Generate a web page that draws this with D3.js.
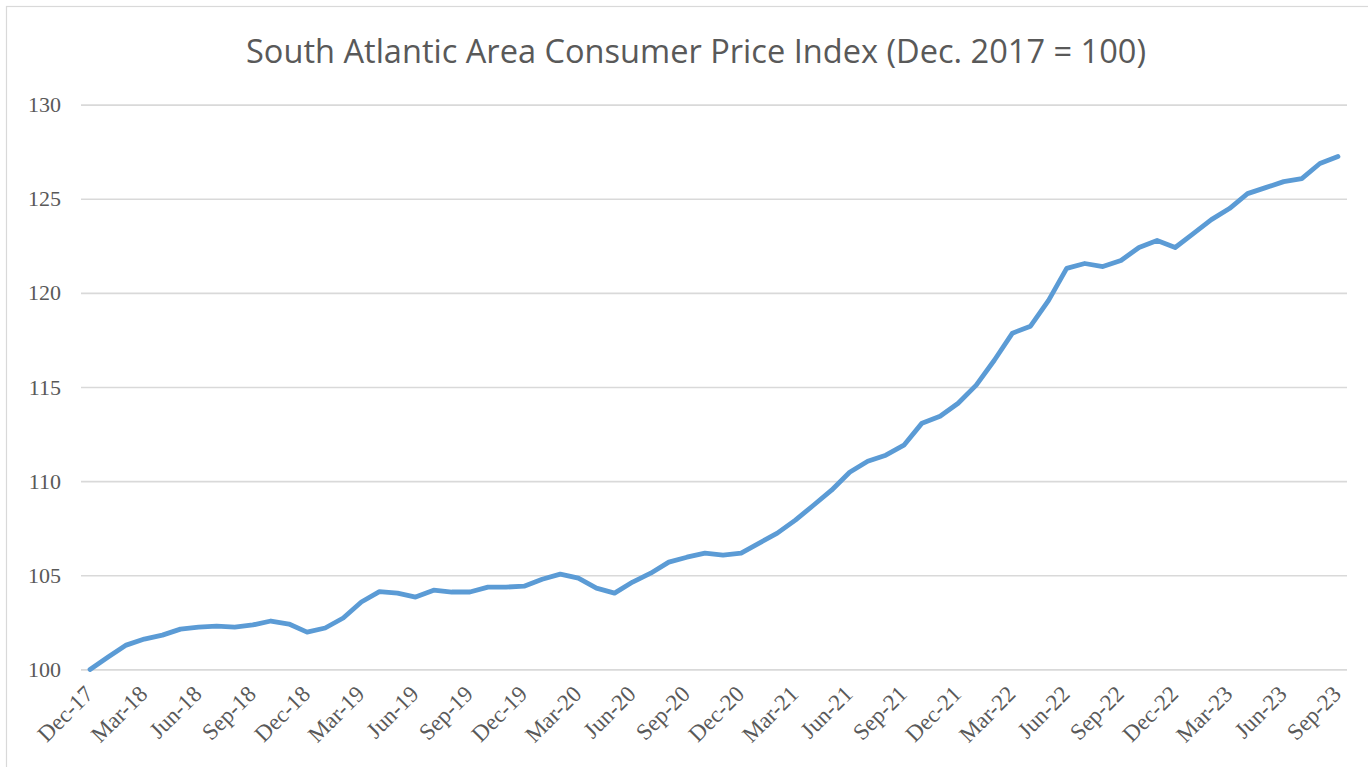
<!DOCTYPE html>
<html>
<head>
<meta charset="utf-8">
<script src="https://cdn.jsdelivr.net/npm/d3@7"></script>
<style>
  html, body { margin: 0; padding: 0; background: #fff; }
  svg { display: block; }
</style>
</head>
<body>
<svg id="chart" width="1368" height="767"></svg>
<script>
const title = "South Atlantic Area Consumer Price Index (Dec. 2017 = 100)";

const categories = [
  "Dec-17","Jan-18","Feb-18","Mar-18","Apr-18","May-18","Jun-18","Jul-18","Aug-18","Sep-18","Oct-18","Nov-18",
  "Dec-18","Jan-19","Feb-19","Mar-19","Apr-19","May-19","Jun-19","Jul-19","Aug-19","Sep-19","Oct-19","Nov-19",
  "Dec-19","Jan-20","Feb-20","Mar-20","Apr-20","May-20","Jun-20","Jul-20","Aug-20","Sep-20","Oct-20","Nov-20",
  "Dec-20","Jan-21","Feb-21","Mar-21","Apr-21","May-21","Jun-21","Jul-21","Aug-21","Sep-21","Oct-21","Nov-21",
  "Dec-21","Jan-22","Feb-22","Mar-22","Apr-22","May-22","Jun-22","Jul-22","Aug-22","Sep-22","Oct-22","Nov-22",
  "Dec-22","Jan-23","Feb-23","Mar-23","Apr-23","May-23","Jun-23","Jul-23","Aug-23","Sep-23"
];

const cpiValues = [
  100.00,100.66,101.29,101.61,101.82,102.14,102.25,102.30,102.25,102.36,102.57,102.41,
  101.98,102.20,102.73,103.58,104.13,104.05,103.84,104.21,104.11,104.11,104.37,104.37,
  104.42,104.79,105.06,104.85,104.32,104.05,104.64,105.11,105.70,105.96,106.18,106.07,
  106.18,106.71,107.24,107.93,108.72,109.52,110.47,111.06,111.38,111.91,113.08,113.45,
  114.14,115.10,116.42,117.86,118.23,119.60,121.30,121.56,121.40,121.72,122.41,122.78,
  122.41,123.15,123.89,124.48,125.27,125.59,125.91,126.07,126.87,127.24
];

const xTickLabels = [
  "Dec-17","Mar-18","Jun-18","Sep-18","Dec-18","Mar-19","Jun-19","Sep-19","Dec-19","Mar-20","Jun-20","Sep-20",
  "Dec-20","Mar-21","Jun-21","Sep-21","Dec-21","Mar-22","Jun-22","Sep-22","Dec-22","Mar-23","Jun-23","Sep-23"
];

const yTickValues = [100, 105, 110, 115, 120, 125, 130];

const svg = d3.select("#chart");

// chart-area border
svg.append("rect")
  .attr("x", 6.5).attr("y", 6.5)
  .attr("width", 1400).attr("height", 800)
  .attr("fill", "none")
  .attr("stroke", "#d9d9d9")
  .attr("stroke-width", 1.2);

const x = d3.scalePoint()
  .domain(categories)
  .range([81, 1347])
  .padding(0.5);

const y = d3.scaleLinear()
  .domain([100, 130])
  .range([669.4, 104.6]);

// gridlines
const grid = svg.append("g")
  .attr("class", "grid")
  .call(d3.axisLeft(y).tickValues(yTickValues).tickSize(-(1347 - 81)).tickFormat(""))
  .attr("transform", "translate(81,0)");
grid.select(".domain").remove();
grid.selectAll("line")
  .attr("stroke", "#d9d9d9")
  .attr("stroke-width", 1.6);

// y axis labels
const yAxis = svg.append("g")
  .attr("transform", "translate(61,0)")
  .call(d3.axisLeft(y).tickValues(yTickValues).tickSize(0).tickPadding(0).tickFormat(d3.format("d")));
yAxis.select(".domain").remove();
yAxis.selectAll("text")
  .attr("font-family", "'Liberation Serif', 'Times New Roman', serif")
  .attr("font-size", 22)
  .attr("fill", "#595959");

// x axis labels
const xAxis = svg.append("g")
  .attr("transform", "translate(0,669.4)")
  .call(d3.axisBottom(x).tickValues(xTickLabels).tickSize(0).tickPadding(0));
xAxis.select(".domain").remove();
xAxis.selectAll("text")
  .attr("font-family", "'Liberation Serif', 'Times New Roman', serif")
  .attr("font-size", 23)
  .attr("fill", "#595959")
  .attr("text-anchor", "end")
  .attr("dy", null)
  .attr("y", 0)
  .attr("transform", "translate(4,26) rotate(-45)");

// line
const line = d3.line()
  .x((d, i) => x(categories[i]))
  .y(d => y(d));

svg.append("path")
  .datum(cpiValues)
  .attr("d", line)
  .attr("fill", "none")
  .attr("stroke", "#5b9bd5")
  .attr("stroke-width", 4.8)
  .attr("stroke-linejoin", "round")
  .attr("stroke-linecap", "round");

// title
svg.append("text")
  .attr("x", 696)
  .attr("y", 62.7)
  .attr("text-anchor", "middle")
  .attr("font-family", "'Open Sans', 'Noto Sans', sans-serif")
  .attr("font-size", 33)
  .attr("fill", "#595959")
  .attr("textLength", 900)
  .attr("lengthAdjust", "spacingAndGlyphs")
  .text(title);
</script>
</body>
</html>
